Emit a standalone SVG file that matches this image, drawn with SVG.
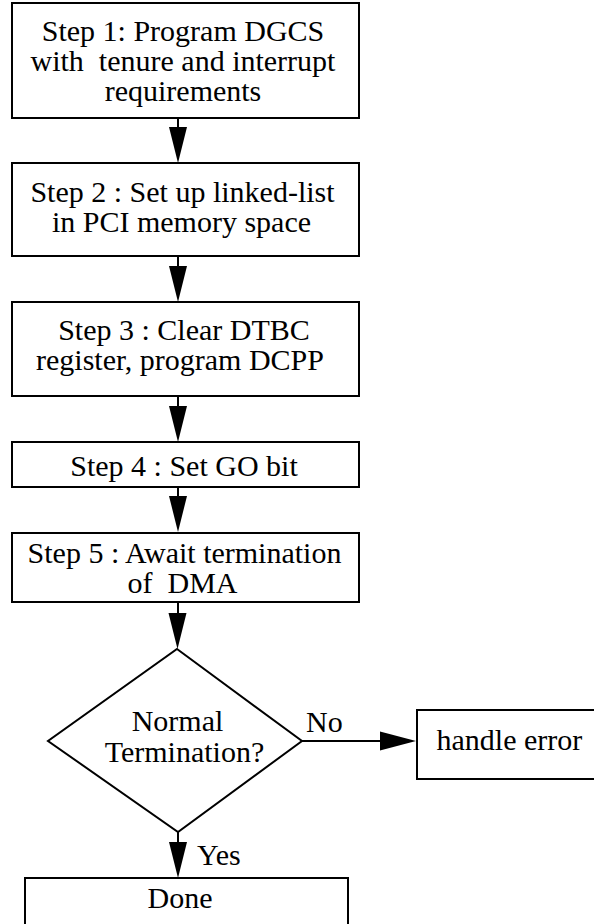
<svg xmlns="http://www.w3.org/2000/svg" width="594" height="924" viewBox="0 0 594 924">
<style>
text{fill:#000;white-space:pre}
.c{text-anchor:middle}
.box{fill:#fff;stroke:#000;stroke-width:2}
.ln{stroke:#000;stroke-width:2;fill:none}
.ah{fill:#000;stroke:none}
</style>
<rect width="594" height="924" fill="#fff"/>
<g font-family="'Liberation Serif', 'Times New Roman', Times, serif" font-size="30">
<g id="step1"><rect class="box" x="12" y="3" width="347" height="115"/>
<text class="c" x="183" y="41">Step 1: Program DGCS</text>
<text class="c" x="183" y="71" xml:space="preserve">with  tenure and interrupt</text>
<text class="c" x="183" y="101">requirements</text></g>
<g id="step2"><rect class="box" x="12" y="163" width="347" height="93"/>
<text class="c" x="182.5" y="202">Step 2 : Set up linked-list</text>
<text class="c" x="181.5" y="232">in PCI memory space</text></g>
<g id="step3"><rect class="box" x="12" y="302" width="347" height="94"/>
<text class="c" x="184" y="340">Step 3 : Clear DTBC</text>
<text class="c" x="180" y="370">register, program DCPP</text></g>
<g id="step4"><rect class="box" x="12" y="442" width="347" height="45"/>
<text class="c" x="184" y="476">Step 4 : Set GO bit</text></g>
<g id="step5"><rect class="box" x="12" y="533" width="347" height="69"/>
<text class="c" x="184.5" y="563">Step 5 : Await termination</text>
<text class="c" x="182.5" y="593" xml:space="preserve">of  DMA</text></g>
<g id="decision"><polygon class="box" points="177,649 302,741 178,832 48,741"/>
<text class="c" x="177.5" y="731">Normal</text>
<text class="c" x="184.5" y="762">Termination?</text></g>
<g id="error"><rect class="box" x="417" y="710" width="190" height="69"/>
<text x="436.5" y="750">handle error</text></g>
<g id="done"><rect class="box" x="25" y="878" width="323" height="60"/>
<text class="c" x="180" y="908">Done</text></g>
<g id="connectors">
<line class="ln" x1="178" y1="118" x2="178" y2="130"/><polygon class="ah" points="169,127 187,127 178,163"/>
<line class="ln" x1="178" y1="256" x2="178" y2="268"/><polygon class="ah" points="169,266 187,266 178,302"/>
<line class="ln" x1="178" y1="396" x2="178" y2="408"/><polygon class="ah" points="169,406 187,406 178,442"/>
<line class="ln" x1="178" y1="487" x2="178" y2="499"/><polygon class="ah" points="169,496 187,496 178,532"/>
<line class="ln" x1="178" y1="602" x2="178" y2="616"/><polygon class="ah" points="168.5,613 186.5,613 177.5,649"/>
<line class="ln" x1="302" y1="741" x2="384" y2="741"/><polygon class="ah" points="380,731.5 380,750.5 416,741"/>
<line class="ln" x1="178" y1="832" x2="178" y2="845"/><polygon class="ah" points="169,842 187,842 178,878"/>
<text x="306" y="732">No</text>
<text x="197" y="865">Yes</text>
</g>
</g>
</svg>
